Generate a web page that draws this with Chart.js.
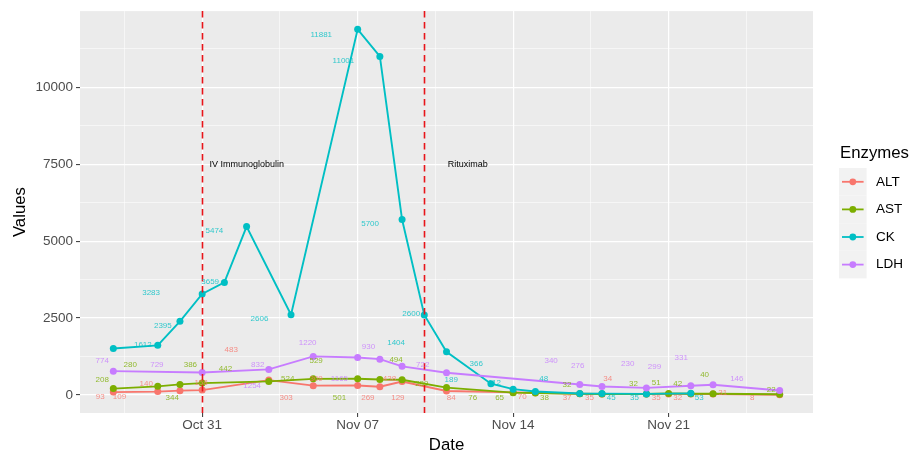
<!DOCTYPE html>
<html>
<head>
<meta charset="utf-8">
<title>Enzymes</title>
<script src="https://cdn.jsdelivr.net/npm/chart.js@4.4.1/dist/chart.umd.min.js"></script>
<style>
  html, body { margin: 0; padding: 0; background: #fff; }
  #wrap { width: 922px; height: 457px; }
</style>
</head>
<body>
<div id="wrap"><canvas id="enzChart" width="922" height="457"></canvas></div>
<script>
// Data (dates are MM-DD)
const altDates = ['10-27', '10-29', '10-30', '10-31', '11-03', '11-05', '11-07', '11-08', '11-09', '11-11', '11-14', '11-15', '11-17', '11-18', '11-20', '11-21', '11-22', '11-23', '11-26'];
const altValues = [93, 109, 140, 158, 483, 303, 309, 269, 438, 129, 84, 70, 37, 35, 34, 35, 32, 31, 8];

const astDates = ['10-27', '10-29', '10-30', '10-31', '11-03', '11-05', '11-07', '11-08', '11-09', '11-11', '11-14', '11-15', '11-17', '11-18', '11-20', '11-21', '11-22', '11-23', '11-26'];
const astValues = [208, 280, 344, 386, 442, 524, 529, 501, 494, 239, 76, 65, 38, 32, 32, 51, 42, 40, 22];

const ckDates = ['10-27', '10-29', '10-30', '10-31', '11-01', '11-02', '11-04', '11-07', '11-08', '11-09', '11-10', '11-11', '11-13', '11-14', '11-15', '11-17', '11-18', '11-20', '11-22'];
const ckValues = [1512, 1612, 2395, 3283, 3659, 5474, 2606, 11881, 11001, 5700, 2600, 1404, 366, 189, 112, 48, 45, 35, 53];

const ldhDates = ['10-27', '10-31', '11-03', '11-05', '11-07', '11-08', '11-09', '11-11', '11-17', '11-18', '11-20', '11-22', '11-23', '11-26'];
const ldhValues = [774, 729, 832, 1254, 1220, 1165, 930, 722, 340, 276, 230, 299, 331, 146];

// Jittered value labels: where each text sits (days from Oct 31, value units)
const altLabelDay = [-4.59, -3.72, -2.52, -0.05, 1.31, 3.78, 5.13, 7.46, 8.43, 8.81, 11.21, 14.41, 16.43, 17.44, 18.26, 20.44, 21.41, 23.44, 24.76];
const altLabelVal = [-74, -74, 377, 397, 1452, -87, 516, -87, 516, -87, -87, -55, -87, -87, 516, -87, -87, 55, -87];

const astLabelDay = [-4.50, -3.24, -1.35, -0.53, 1.05, 3.85, 5.13, 6.18, 8.73, 9.89, 12.18, 13.39, 15.41, 16.42, 19.42, 20.44, 21.41, 22.62, 25.62];
const astLabelVal = [506, 968, -87, 968, 861, 539, 1097, -87, 1129, 377, -87, -87, -87, 323, 355, 410, 377, 645, 161];

const ckLabelDay = [null, -2.67, -1.77, -2.30, 0.36, 0.55, 2.58, 5.36, 6.36, 7.56, 9.41, 8.73, 12.34, 11.21, 13.16, 15.38, 18.42, 19.46, 22.38];
const ckLabelVal = [null, 1635, 2258, 3313, 3687, 5345, 2474, 11719, 10861, 5558, 2635, 1687, 1000, 506, 397, 539, -87, -87, -87];

const ldhLabelDay = [-4.50, -2.04, 2.50, 2.25, 4.75, 6.18, 7.49, 9.93, 15.71, 16.91, 19.16, 20.36, 21.57, 24.07];
const ldhLabelVal = [1097, 968, 968, 290, 1687, 516, 1558, 968, 1106, 945, 1023, 913, 1216, 516];

// Treatments (vertical lines) and their captions
const treatmentDates = ['10-31', '11-10'];
const treatmentNames = ['IV Immunoglobulin', 'Rituximab'];
const treatmentTextDay = [0.33, 11.06];
const treatmentTextVal = [7500, 7500];

// Axis breaks
const xTickDates = ['10-31', '11-07', '11-14', '11-21'];
const yTicks = [0, 2500, 5000, 7500, 10000];

const seriesNames = ['ALT', 'AST', 'CK', 'LDH'];
const seriesColors = ['#F8766D', '#7CAE00', '#00BFC4', '#C77CFF'];
const labelColors = ['rgba(248,118,109,0.8)', 'rgba(124,174,0,0.8)', 'rgba(0,191,196,0.8)', 'rgba(199,124,255,0.8)'];

const FONT = "'Liberation Sans', Arial, Helvetica, sans-serif";
const MONTHS = ['Jan', 'Feb', 'Mar', 'Apr', 'May', 'Jun', 'Jul', 'Aug', 'Sep', 'Oct', 'Nov', 'Dec'];
const BASE = Date.UTC(2000, 9, 31);

function toDay(md) {
    const [m, d] = md.split('-').map(Number);
    return (Date.UTC(2000, m - 1, d) - BASE) / 86400000;
}

function fmtDay(v) {
    const dt = new Date(BASE + v * 86400000);
    return MONTHS[dt.getUTCMonth()] + ' ' + String(dt.getUTCDate()).padStart(2, '0');
}

const series = [
    { dates: altDates, values: altValues, lDay: altLabelDay, lVal: altLabelVal },
    { dates: astDates, values: astValues, lDay: astLabelDay, lVal: astLabelVal },
    { dates: ckDates, values: ckValues, lDay: ckLabelDay, lVal: ckLabelVal },
    { dates: ldhDates, values: ldhValues, lDay: ldhLabelDay, lVal: ldhLabelVal }
];

// ggplot style 5% expansion of the data range
const allDays = series.flatMap(s => s.dates.map(toDay));
const allVals = series.flatMap(s => s.values);
const dMin = Math.min(...allDays), dMax = Math.max(...allDays);
const vMin = Math.min(...allVals), vMax = Math.max(...allVals);
const xMin = dMin - (dMax - dMin) * 0.05, xMax = dMax + (dMax - dMin) * 0.05;
const yMin = vMin - (vMax - vMin) * 0.05, yMax = vMax + (vMax - vMin) * 0.05;

// major + minor (midpoint) breaks
const xMajor = xTickDates.map(toDay);
const xStep = xMajor[1] - xMajor[0];
const xBreaks = [];
for (let v = xMajor[0] - xStep; v <= xMax; v += xStep / 2) {
    if (v >= xMin) xBreaks.push(v);
}
const yStep = yTicks[1] - yTicks[0];
const yBreaks = [];
for (let v = yTicks[0] - yStep; v <= yMax; v += yStep / 2) {
    if (v >= yMin) yBreaks.push(v);
}
const isXMajor = v => xMajor.some(m => Math.abs(m - v) < 1e-6);
const isYMajor = v => yTicks.some(m => Math.abs(m - v) < 1e-6);

// Plugins
const panelPlugin = {
    id: 'panel',
    beforeDraw(chart) {
        const { ctx, chartArea: a } = chart;
        ctx.save();
        ctx.fillStyle = '#FFFFFF';
        ctx.fillRect(0, 0, chart.width, chart.height);
        ctx.fillStyle = '#EBEBEB';
        ctx.fillRect(a.left, a.top, a.right - a.left, a.bottom - a.top);
        ctx.restore();
    }
};

const overlayPlugin = {
    id: 'overlay',
    afterDatasetsDraw(chart) {
        const { ctx, chartArea: a } = chart;
        const x = chart.scales.x, y = chart.scales.y;
        ctx.save();

        // treatment lines
        ctx.strokeStyle = '#E8141A';
        ctx.lineWidth = 1.6;
        ctx.setLineDash([6.5, 4.5]);
        treatmentDates.forEach(d => {
            const px = Math.round(x.getPixelForValue(toDay(d))) + 0.5;
            ctx.beginPath();
            ctx.moveTo(px, a.top);
            ctx.lineTo(px, a.bottom);
            ctx.stroke();
        });
        ctx.setLineDash([]);

        // value labels
        ctx.font = '8px ' + FONT;
        ctx.textAlign = 'center';
        ctx.textBaseline = 'middle';
        series.forEach((s, si) => {
            ctx.fillStyle = labelColors[si];
            s.values.forEach((v, i) => {
                if (s.lDay[i] === null) return;
                ctx.fillText(String(v), x.getPixelForValue(s.lDay[i]), y.getPixelForValue(s.lVal[i]));
            });
        });

        // treatment captions
        ctx.fillStyle = '#000';
        ctx.font = '9px ' + FONT;
        ctx.textAlign = 'left';
        treatmentNames.forEach((t, i) => {
            ctx.fillText(t, x.getPixelForValue(treatmentTextDay[i]), y.getPixelForValue(treatmentTextVal[i]));
        });
        ctx.restore();
    },
    afterDraw(chart) {
        // legend, ggplot style
        const ctx = chart.ctx;
        const lx = 839, ly = 168, key = 27.6;
        ctx.save();
        ctx.fillStyle = '#000';
        ctx.font = '16.8px ' + FONT;
        ctx.textAlign = 'left';
        ctx.textBaseline = 'middle';
        ctx.fillText('Enzymes', lx + 1, 153);
        seriesNames.forEach((name, i) => {
            const top = ly + i * key, cy = top + key / 2;
            ctx.fillStyle = '#F2F2F2';
            ctx.fillRect(lx, top, key, key);
            ctx.strokeStyle = seriesColors[i];
            ctx.lineWidth = 1.8;
            ctx.beginPath();
            ctx.moveTo(lx + 3, cy);
            ctx.lineTo(lx + key - 3, cy);
            ctx.stroke();
            ctx.fillStyle = seriesColors[i];
            ctx.beginPath();
            ctx.arc(lx + key / 2, cy, 3.4, 0, Math.PI * 2);
            ctx.fill();
            ctx.fillStyle = '#000';
            ctx.font = '13.5px ' + FONT;
            ctx.fillText(name, lx + 37, cy);
        });
        ctx.restore();
    }
};

const datasets = series.map((s, i) => ({
    label: seriesNames[i],
    data: s.dates.map((d, j) => ({ x: toDay(d), y: s.values[j] })),
    borderColor: seriesColors[i],
    backgroundColor: seriesColors[i],
    pointBackgroundColor: seriesColors[i],
    pointBorderWidth: 0,
    pointRadius: 3.5,
    borderWidth: 1.9,
    tension: 0,
    fill: false,
    order: seriesNames.length - i
}));

new Chart(document.getElementById('enzChart'), {
    type: 'line',
    data: { datasets },
    plugins: [panelPlugin, overlayPlugin],
    options: {
        responsive: false,
        animation: false,
        events: [],
        layout: { padding: { top: 6, right: 109, left: 0, bottom: 0 } },
        plugins: { legend: { display: false }, tooltip: { enabled: false } },
        scales: {
            x: {
                type: 'linear',
                min: xMin,
                max: xMax,
                afterBuildTicks: s => { s.ticks = xBreaks.map(v => ({ value: v })); },
                afterFit: s => { s.height = 44; },
                border: { display: false },
                grid: {
                    color: '#FFFFFF',
                    lineWidth: c => isXMajor(c.tick.value) ? 1.2 : 0.55,
                    tickColor: c => isXMajor(c.tick.value) ? '#333333' : 'rgba(0,0,0,0)',
                    tickLength: 4,
                    tickWidth: 1
                },
                ticks: {
                    autoSkip: false,
                    maxRotation: 0,
                    padding: 0,
                    color: '#4D4D4D',
                    font: { size: 13.5, family: FONT },
                    callback: v => isXMajor(v) ? fmtDay(v) : ''
                },
                title: { display: true, text: 'Date', color: '#000', font: { size: 16.8, family: FONT }, padding: { top: 0, bottom: 2 } }
            },
            y: {
                type: 'linear',
                min: yMin,
                max: yMax,
                afterBuildTicks: s => { s.ticks = yBreaks.map(v => ({ value: v })); },
                afterFit: s => { s.width = 80; },
                border: { display: false },
                grid: {
                    color: '#FFFFFF',
                    lineWidth: c => isYMajor(c.tick.value) ? 1.2 : 0.55,
                    tickColor: c => isYMajor(c.tick.value) ? '#333333' : 'rgba(0,0,0,0)',
                    tickLength: 4,
                    tickWidth: 1
                },
                ticks: {
                    autoSkip: false,
                    padding: 3,
                    color: '#4D4D4D',
                    font: { size: 13.5, family: FONT },
                    callback: v => isYMajor(v) ? String(v) : ''
                },
                title: { display: true, text: 'Values', color: '#000', font: { size: 16.8, family: FONT }, padding: { top: 10, bottom: 0 } }
            }
        }
    }
});
</script>
</body>
</html>
